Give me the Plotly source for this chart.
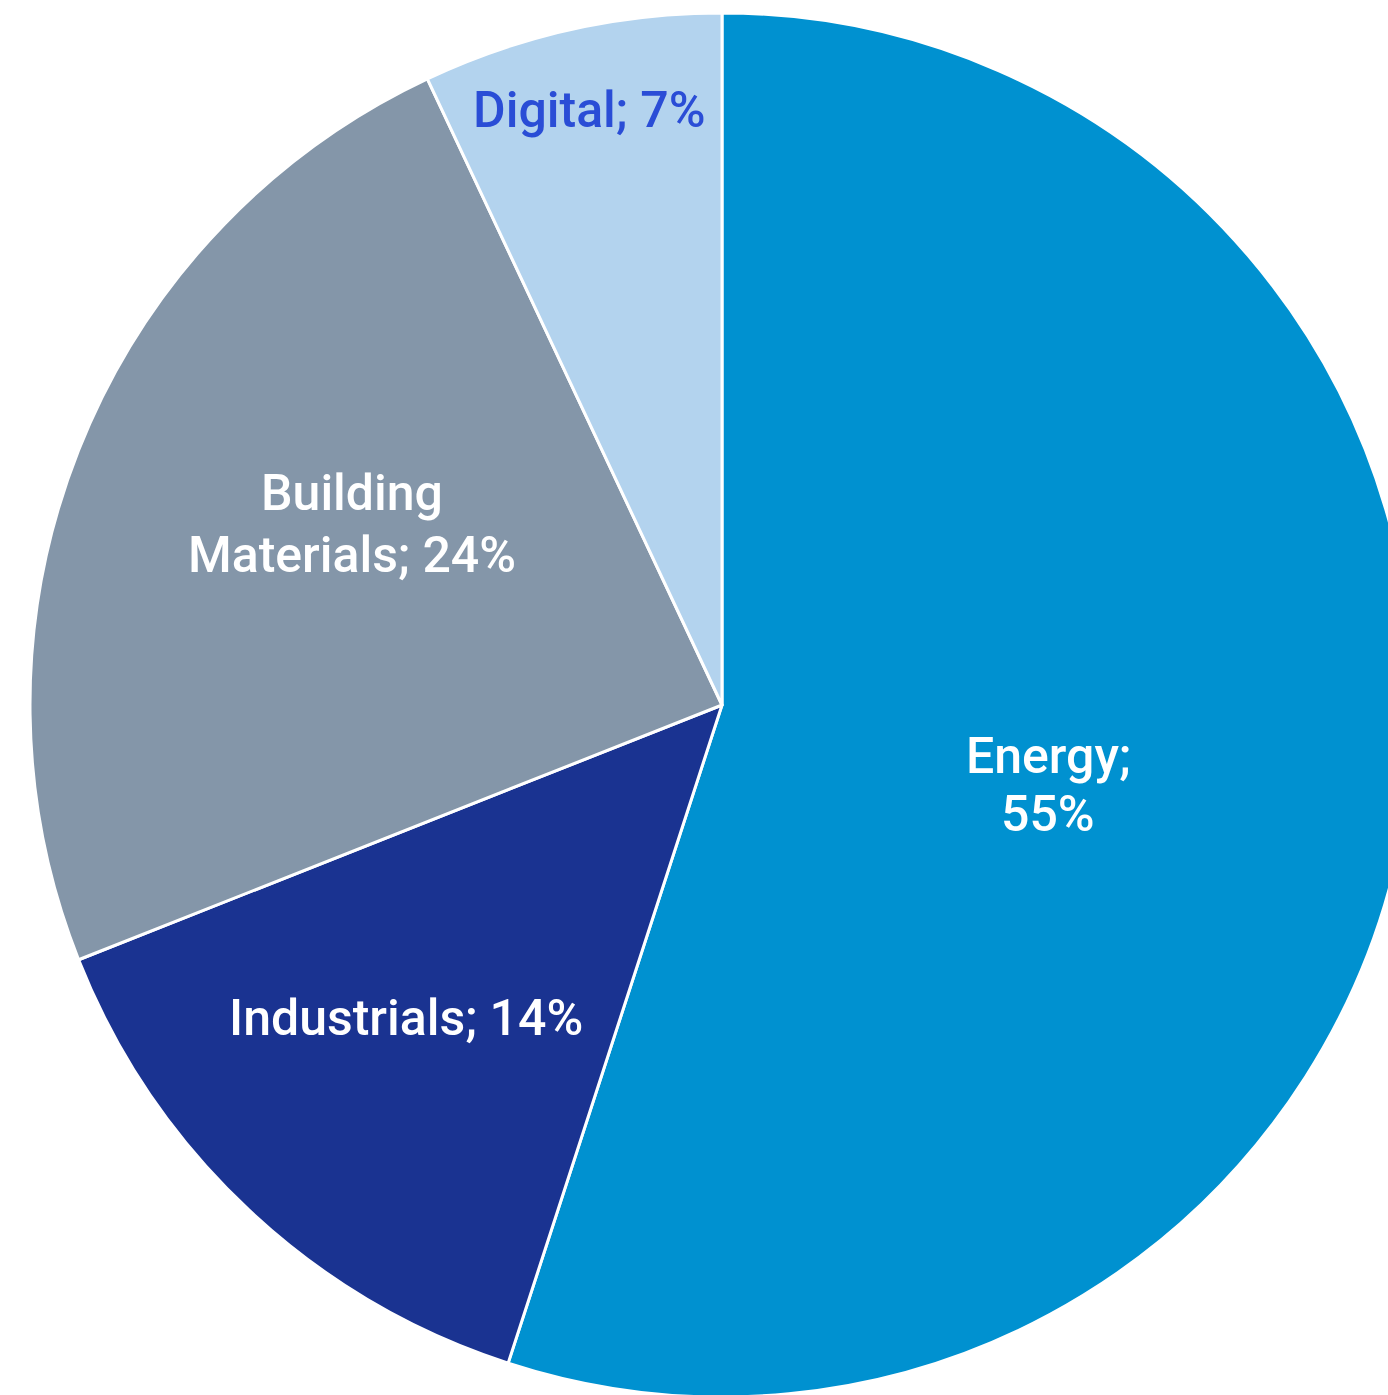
import plotly.graph_objects as go

# Data
categories = ["Energy", "Industrials", "Building Materials", "Digital"]
values = [55, 14, 24, 7]
colors = ["#0091D0", "#1A3391", "#8496A9", "#B3D3EE"]
label_lines = [["Energy;", "55%"], ["Industrials; 14%"], ["Building", "Materials; 24%"], ["Digital; 7%"]]
label_colors = ["#FFFFFF", "#FFFFFF", "#FFFFFF", "#2A4DD6"]

# Layout geometry (pixels)
W, H = 1444, 1410
ML, MR, MT, MB = 30, 30, 13, 13
PW, PH = W - ML - MR, H - MT - MB
# per-label: centre x, centre y of each line (pixels)
label_pos = [(1048, [756, 814]), (406, [1018]), (352, [493, 555]), (589, [110])]

fig = go.Figure(
    go.Pie(
        labels=categories,
        values=values,
        sort=False,
        direction="clockwise",
        rotation=0,
        marker=dict(colors=colors, line=dict(color="#FFFFFF", width=3)),
        textinfo="none",
        hoverinfo="label+percent",
        showlegend=False,
    )
)

annotations = []
for lines, col, (px, pys) in zip(label_lines, label_colors, label_pos):
    for txt, py in zip(lines, pys):
        annotations.append(
            dict(
                text=txt,
                x=(px - ML) / PW,
                y=1 - (py - MT) / PH,
                xref="paper",
                yref="paper",
                xanchor="center",
                yanchor="middle",
                showarrow=False,
                align="center",
                font=dict(family="Roboto", size=50, color=col, weight=500),
            )
        )

fig.update_layout(
    width=W,
    height=H,
    margin=dict(l=ML, r=MR, t=MT, b=MB, pad=0),
    paper_bgcolor="#FFFFFF",
    plot_bgcolor="#FFFFFF",
    annotations=annotations,
)

fig.write_html(
    "out.html",
    post_script="document.body.style.margin='0';document.body.style.overflow='hidden';document.documentElement.style.overflow='hidden';",
)
